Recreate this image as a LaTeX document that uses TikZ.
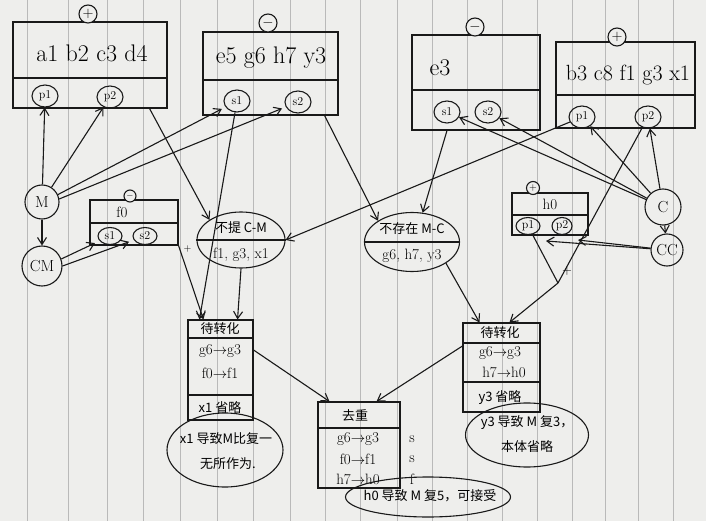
\documentclass[tikz,border=0pt]{standalone}
\usepackage{fontspec}
\newfontfamily\cjk{Noto Sans CJK SC}
\usepackage{tikz}
\usetikzlibrary{arrows.meta}
\usetikzlibrary{positioning,shapes.geometric}
\definecolor{paper}{RGB}{238,238,236}
\definecolor{ink}{RGB}{25,25,25}
\definecolor{ruling}{RGB}{185,185,185}

\begin{document}
\begin{tikzpicture}[
x=1pt,y=-1pt,
MyBoxes/.style={draw=ink,line width=1.1pt,rectangle,inner sep=0pt},
Slots/.style={draw=ink,line width=1.1pt,ellipse,inner sep=0.5pt,minimum width=26pt,minimum height=22pt,font=\fontsize{12}{13}\selectfont},
Signs/.style={draw=ink,line width=1.1pt,circle,inner sep=0pt,minimum size=18pt,fill=paper,font=\fontsize{14}{14}\selectfont},
Parties/.style={draw=ink,line width=1.1pt,circle,inner sep=0pt,font=\fontsize{16}{17}\selectfont},
Sets/.style={draw=ink,line width=1.1pt,ellipse,inner sep=0pt},
Links/.style={draw=ink,line width=1.1pt,-{Straight Barb[length=7pt,width=9pt]}},
Plain/.style={draw=ink,line width=1.1pt},
Big/.style={font=\fontsize{24}{26}\selectfont},
Row/.style={font=\fontsize{15}{16}\selectfont},
Note/.style={font=\cjk\fontsize{13}{15}\selectfont}
]
%\grid;
\useasboundingbox (0,0) rectangle (706,521);
\fill[paper] (0,0) rectangle (706,521);
\foreach \rx in {27,68,107,143,180,217,253,290,325,360,397,432,467,502,537,572,605,638,673}
  \draw[ruling,line width=0.7pt] (\rx,0) -- (\rx,521);

% four top tables
\node[MyBoxes,minimum width=154pt,minimum height=86pt] (boxA) at (90,65) {};
\draw[Plain] (boxA.west |- 0,78) -- (boxA.east |- 0,78);
\node[Big] (textA) at (92,53) {a1 b2 c3 d4};
\node[Signs] (signA) at (88,14) {$+$};
\node[Slots] (pA1) at (45,96) {p1};
\node[Slots] (pA2) at (110,97) {p2};

\node[MyBoxes,minimum width=135pt,minimum height=83pt] (boxB) at (270.5,73.5) {};
\draw[Plain] (boxB.west |- 0,80) -- (boxB.east |- 0,80);
\node[Big] (textB) at (271,58) {e5 g6 h7 y3};
\node[Signs] (signB) at (268,23) {$-$};
\node[Slots] (sB1) at (237,101) {s1};
\node[Slots] (sB2) at (298,102) {s2};

\node[MyBoxes,minimum width=128pt,minimum height=95pt] (boxC) at (476,82.5) {};
\draw[Plain] (boxC.west |- 0,90) -- (boxC.east |- 0,90);
\node[Big] (textC) at (440,68) {e3};
\node[Signs] (signC) at (475,27) {$-$};
\node[Slots] (sC1) at (447,112) {s1};
\node[Slots] (sC2) at (488,112) {s2};

\node[MyBoxes,minimum width=139pt,minimum height=86pt] (boxD) at (625.5,85) {};
\draw[Plain] (boxD.west |- 0,95) -- (boxD.east |- 0,95);
\node[font=\fontsize{22}{24}\selectfont] (textD) at (628,75) {b3 c8 f1 g3 x1};
\node[Signs] (signD) at (617,37) {$+$};
\node[Slots] (pD1) at (582,117) {p1};
\node[Slots] (pD2) at (648,117) {p2};

% parties
\node[Parties,minimum size=34pt] (M) at (42,202) {M};
\node[Parties,minimum size=40pt] (CM) at (42,266) {CM};
\node[Parties,minimum size=36pt] (C) at (663,207) {C};
\node[Parties,minimum size=32pt] (CC) at (667,250) {CC};

% small tables
\node[MyBoxes,minimum width=88pt,minimum height=45pt] (boxF) at (134,222.5) {};
\draw[Plain] (boxF.west |- 0,223) -- (boxF.east |- 0,223);
\node[Row] (textF) at (122,212) {f0};
\node[Signs,minimum size=12pt,font=\fontsize{9}{9}\selectfont] (signF) at (130,196) {$-$};
\node[Slots,minimum width=24pt,minimum height=17pt] (sF1) at (110,236) {s1};
\node[Slots,minimum width=24pt,minimum height=17pt] (sF2) at (145,236) {s2};

\node[MyBoxes,minimum width=76pt,minimum height=42pt] (boxH) at (550,214) {};
\draw[Plain] (boxH.west |- 0,215) -- (boxH.east |- 0,215);
\node[Row] (textH) at (550,204) {h0};
\node[Signs,minimum size=13pt,font=\fontsize{10}{10}\selectfont] (signH) at (533,188) {$+$};
\node[Slots,minimum width=24pt,minimum height=17pt] (pH1) at (528,226) {p1};
\node[Slots,minimum width=20pt,minimum height=17pt] (pH2) at (562,226) {p2};

% set differences
\node[Sets,minimum width=88pt,minimum height=56pt] (diffCM) at (241,240) {};
\draw[Plain] (diffCM.west) -- (diffCM.east);
\node[Note] (diffCMtop) at (241,228) {不提 C-M};
\node[Row] (diffCMbot) at (241,255) {f1, g3, x1};

\node[Sets,minimum width=95pt,minimum height=59pt] (diffMC) at (412,242) {};
\draw[Plain] (diffMC.west) -- (diffMC.east);
\node[Note] (diffMCtop) at (412,229) {不存在 M-C};
\node[Row] (diffMCbot) at (412,256) {g6, h7, y3};

% pending tables
\node[MyBoxes,minimum width=65pt,minimum height=100pt] (todoL) at (220.5,370) {};
\draw[Plain] (todoL.west |- 0,338) -- (todoL.east |- 0,338);
\draw[Plain] (todoL.west |- 0,395) -- (todoL.east |- 0,395);
\node[Note] (todoLtitle) at (220,329) {待转化};
\node[Row] (todoL1) at (220,351) {g6$\to$g3};
\node[Row] (todoL2) at (220,373) {f0$\to$f1};
\node[Note] (todoL3) at (220,408) {x1 省略};

\node[MyBoxes,minimum width=77pt,minimum height=89pt] (todoR) at (501.5,367.5) {};
\draw[Plain] (todoR.west |- 0,343) -- (todoR.east |- 0,343);
\draw[Plain] (todoR.west |- 0,382) -- (todoR.east |- 0,382);
\node[Note] (todoRtitle) at (500,333) {待转化};
\node[Row] (todoR1) at (500,353) {g6$\to$g3};
\node[Row] (todoR2) at (504,372) {h7$\to$h0};
\node[Note] (todoR3) at (500,398) {y3 省略};

\node[MyBoxes,minimum width=82pt,minimum height=86pt] (dedup) at (359,445) {};
\draw[Plain] (dedup.west |- 0,428) -- (dedup.east |- 0,428);
\node[Note] (dedupTitle) at (355,415) {去重};
\node[Row] (dedup1) at (358,439) {g6$\to$g3};
\node[Row] (dedup2) at (358,459) {f0$\to$f1};
\node[Row] (dedup3) at (358,479) {h7$\to$h0};
\node[Row] (flag1) at (412,439) {s};
\node[Row] (flag2) at (412,459) {s};
\node[Row] (flag3) at (412,479) {f};

% notes
\node[Sets,minimum width=116pt,minimum height=74pt] (noteL) at (225,450) {};
\node[Note] (noteL1) at (226,439) {x1 导致M比复一};
\node[Note] (noteL2) at (228,464) {无所作为.};

\node[Sets,minimum width=123pt,minimum height=64pt] (noteR) at (527,435) {};
\node[Note] (noteR1) at (527,423) {y3 导致 M 复3，};
\node[Note] (noteR2) at (527,447) {本体省略};

\node[Sets,minimum width=165pt,minimum height=40pt] (noteB) at (428,497) {};
\node[Note] (noteB1) at (430,496) {h0 导致 M 复5，可接受};

% connectors
\coordinate (inH1) at (546,241);
\coordinate (inH2) at (578,240);
\coordinate (joinR) at (558,283);

\draw[Links] (M) -- (pA1);
\draw[Links] (M) -- (pA2);
\draw[Links,shorten >=4pt] (M.25) -- (sB1);
\draw[Links,shorten >=4pt] (M.10) -- (sB2);
\draw[Links] (M) -- (CM);
\draw[Links,shorten >=5pt] (CM.20) -- (sF1);
\draw[Links,shorten >=5pt] (CM.0) -- (sF2);

\draw[Links] ([xshift=-18pt]boxA.south east) -- (diffCM.north west);
\draw[Links] (sB1) -- ([xshift=12pt]todoL.north west);
\draw[Links] (boxF.south east) -- ([xshift=16pt]todoL.north west) node[pos=0.05,right,font=\fontsize{10}{10}\selectfont]{+};
\draw[Links] (diffCM.south) -- ([xshift=-16pt]todoL.north east);

\draw[Links] ([xshift=-14pt]boxB.south east) -- (diffMC.north west);
\draw[Links] (boxC.south -| sC1) -- (diffMC.70);
\draw[Links] (pD1) -- (diffCM.east);

\draw[Links] (C) -- (sC1);
\draw[Links] (C) -- (sC2);
\draw[Links] (C) -- (pD1);
\draw[Links] (C) -- (pD2);
\draw[Links] (C) -- (CC);
\draw[Links] (CC) -- (inH1);
\draw[Links] (CC) -- (inH2);

\draw[Plain] (pH1) -- (joinR);
\draw[Plain] (pD2) -- (joinR);
\draw[Links] (joinR) -- ([xshift=8pt]todoR.north);
\node[font=\fontsize{13}{13}\selectfont] (plusR) at (567,271) {+};
\draw[Links] (diffMC.south east) -- ([xshift=-22pt]todoR.north);

\draw[Links] (todoL.east |- 0,350) -- ([xshift=12pt]dedup.north west);
\draw[Links] (todoR.west |- 0,346) -- ([xshift=-24pt]dedup.north east);

\end{tikzpicture}
\end{document}
